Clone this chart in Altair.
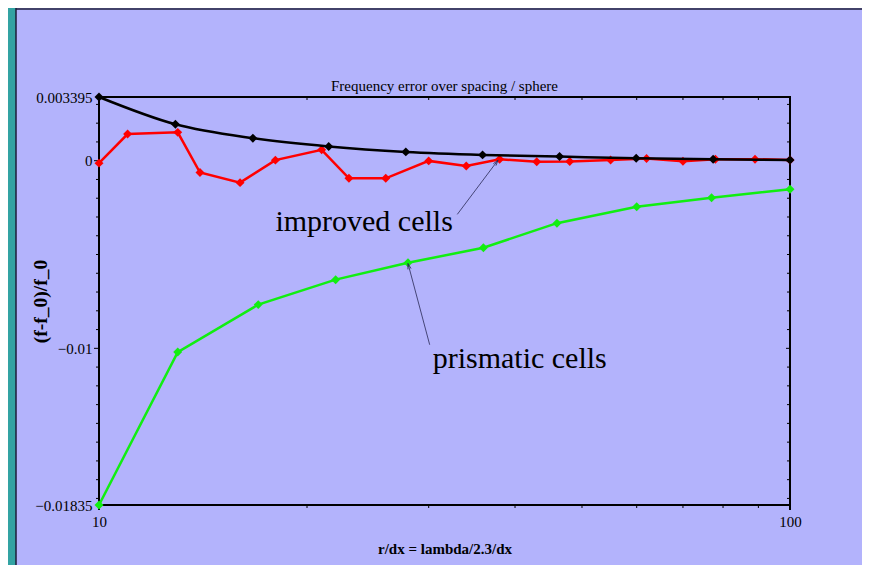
import altair as alt
import pandas as pd

# ---- data ----
black_x = [10, 12.9, 16.7, 21.5, 27.8, 35.9, 46.4, 59.9, 77.4, 100]
black_y = [0.003395, 0.00194, 0.00120, 0.00076, 0.00047, 0.00031, 0.00022, 0.00013, 0.00008, 0.00004]

red_x = [10, 11, 13, 14, 16, 18, 21, 23, 26, 30, 34, 38, 43, 48, 55, 62, 70, 78, 89, 100]
red_y = [-0.00013, 0.00142, 0.00151, -0.00063, -0.00117, 0.00003, 0.00058, -0.00094, -0.00094,
         -0.00001, -0.00028, 0.00008, -0.00006, -0.00004, 0.00004, 0.00012, -0.00003, 0.00008,
         0.00008, 0.00004]

green_x = [10, 13, 17, 22, 28, 36, 46, 60, 77, 100]
green_y = [-0.01835, -0.01020, -0.00767, -0.00634, -0.00544, -0.00464, -0.00333, -0.00245, -0.00197, -0.00152]

y_label_values = [0.003395, 0, -0.01, -0.01835]
x_label_values = [10, 100]
y_minor_ticks = [0.003, 0.002, 0.001, -0.001, -0.002, -0.003, -0.004, -0.005, -0.006, -0.007,
                 -0.008, -0.009, -0.011, -0.012, -0.013, -0.014, -0.015, -0.016, -0.017, -0.018]
y_major_ticks = [0, -0.01]
x_minor_ticks = [20, 30, 40, 50, 60, 70, 80, 90]
x_major_ticks = [10, 100]

annot_text = ["improved cells", "prismatic cells"]
annot_x = [18, 30.4]
annot_y = [-0.00377, -0.01104]
arrow_x = [33, 30.1]
arrow_y = [-0.00286, -0.00981]
arrow_x2 = [37.8, 28]
arrow_y2 = [0.00003, -0.00548]
arrow_angle = [36.7, 344.8]

TITLE = "Frequency error over spacing / sphere"
X_TITLE = "r/dx = lambda/2.3/dx"
Y_TITLE = "(f-f_0)/f_0"

FONT = "Liberation Serif"
BG = "#b3b3fc"
TEAL = "#33a3a3"

xs = alt.Scale(type="log", domain=[10, 100], nice=False)
ys = alt.Scale(domain=[-0.01835, 0.003395], nice=False, zero=False)

W, H = 691, 408
PAD_B = 60

df_black = pd.DataFrame({"x": black_x, "y": black_y})
df_red = pd.DataFrame({"x": red_x, "y": red_y})
df_green = pd.DataFrame({"x": green_x, "y": green_y})
df_one = pd.DataFrame({"a": [0]})
df_yminor = pd.DataFrame({"v": y_minor_ticks})
df_ymajor = pd.DataFrame({"v": y_major_ticks})
df_xminor = pd.DataFrame({"v": x_minor_ticks})
df_xmajor = pd.DataFrame({"v": x_major_ticks})
df_annot = pd.DataFrame({"t": annot_text, "x": annot_x, "y": annot_y})
df_arrow = pd.DataFrame({"x": arrow_x, "y": arrow_y, "x2": arrow_x2, "y2": arrow_y2, "ang": arrow_angle})

# one axis definition per channel, shared by every layer so the merge is consistent
XA = alt.Axis(values=x_label_values, format="d", ticks=False, domain=False, grid=False,
              labelFlush=False, labelOverlap=False, labelPadding=9, labelFontSize=15,
              labelFont=FONT, labelColor="black", title=X_TITLE, titleFont=FONT,
              titleFontSize=15, titleFontWeight="bold", titleColor="black",
              titleY=43, titleBaseline="middle")
YA = alt.Axis(values=y_label_values, format=".4~r", ticks=False, domain=False, grid=False,
              labelFlush=False, labelOverlap=False, labelPadding=7, labelFontSize=15,
              labelFont=FONT, labelColor="black", title=Y_TITLE, titleFont=FONT,
              titleFontSize=19.5, titleFontWeight="bold", titleColor="black",
              titleX=-59, titleY=H / 2, titleAngle=270, titleAlign="center",
              titleBaseline="middle")


def X(field):
    return alt.X(field, scale=xs, axis=XA)


def Y(field):
    return alt.Y(field, scale=ys, axis=YA)


# decorations (page frame) and chart title
teal = alt.Chart(df_one).mark_rect(color=TEAL).encode(
    x=alt.value(-91), x2=alt.value(-83), y=alt.value(-89), y2=alt.value(H + PAD_B))
edge = alt.Chart(df_one).mark_rule(color="#1c1c3a", strokeWidth=1.5).encode(
    x=alt.value(-83), y=alt.value(-89), y2=alt.value(H + PAD_B))
topline = alt.Chart(df_one).mark_rule(color="#1c1c3a", strokeWidth=1.5).encode(
    x=alt.value(-83), x2=alt.value(W + 72), y=alt.value(-88))
title = alt.Chart(df_one).mark_text(
    text=TITLE, font=FONT, fontSize=15, color="black", align="center", baseline="middle"
).encode(x=alt.value(W / 2), y=alt.value(-11))

# ticks
yl_minor = alt.Chart(df_yminor).mark_rule(color="black", strokeWidth=1).encode(
    y=Y("v:Q"), x=alt.value(-3), x2=alt.value(0))
yl_major = alt.Chart(df_ymajor).mark_rule(color="black", strokeWidth=1).encode(
    y=Y("v:Q"), x=alt.value(-5), x2=alt.value(0))
yr_minor = alt.Chart(df_yminor).mark_rule(color="black", strokeWidth=1).encode(
    y=Y("v:Q"), x=alt.value(W - 3), x2=alt.value(W))
yr_major = alt.Chart(df_ymajor).mark_rule(color="black", strokeWidth=1).encode(
    y=Y("v:Q"), x=alt.value(W - 4), x2=alt.value(W))
xb_minor = alt.Chart(df_xminor).mark_rule(color="black", strokeWidth=1).encode(
    x=X("v:Q"), y=alt.value(H), y2=alt.value(H + 3))
xb_major = alt.Chart(df_xmajor).mark_rule(color="black", strokeWidth=2).encode(
    x=X("v:Q"), y=alt.value(H), y2=alt.value(H + 5))
xt_minor = alt.Chart(df_xminor).mark_rule(color="black", strokeWidth=1).encode(
    x=X("v:Q"), y=alt.value(0), y2=alt.value(3))


def series(df, color, interp="linear"):
    return alt.Chart(df).mark_line(
        color=color, strokeWidth=2.5, interpolate=interp,
        point=alt.OverlayMarkDef(shape="diamond", size=80, filled=True, color=color, opacity=1),
    ).encode(x=X("x:Q"), y=Y("y:Q"))


green = series(df_green, "#11ee11")
red = series(df_red, "#ff0000")
black = series(df_black, "black", interp="monotone")

arrows = alt.Chart(df_arrow).mark_rule(color="#2a2a55", strokeWidth=0.8).encode(
    x=X("x:Q"), y=Y("y:Q"), x2="x2:Q", y2="y2:Q")
heads = alt.Chart(df_arrow).mark_point(
    shape="M -0.45 1.6 L 0 0 L 0.45 1.6", filled=False, color="#2a2a55", strokeWidth=0.8, size=50,
    opacity=1,
).encode(x=X("x2:Q"), y=Y("y2:Q"), angle=alt.Angle("ang:Q", scale=None))

labels = alt.Chart(df_annot).mark_text(
    font=FONT, fontSize=30, color="black", align="left", baseline="alphabetic"
).encode(x=X("x:Q"), y=Y("y:Q"), text="t:N")

chart = alt.layer(
    teal, edge, topline, title,
    yl_minor, xb_minor, yl_major, yr_minor, yr_major, xb_major, xt_minor,
    green, red, black, arrows, heads, labels,
).properties(
    width=W, height=H,
    padding={"left": 91, "top": 89, "right": 72, "bottom": PAD_B},
    autosize=alt.AutoSizeParams(type="none"),
    background=BG,
).configure_view(stroke="black", strokeWidth=2)

chart.save("out.html", embed_options={"renderer": "svg", "actions": False})
